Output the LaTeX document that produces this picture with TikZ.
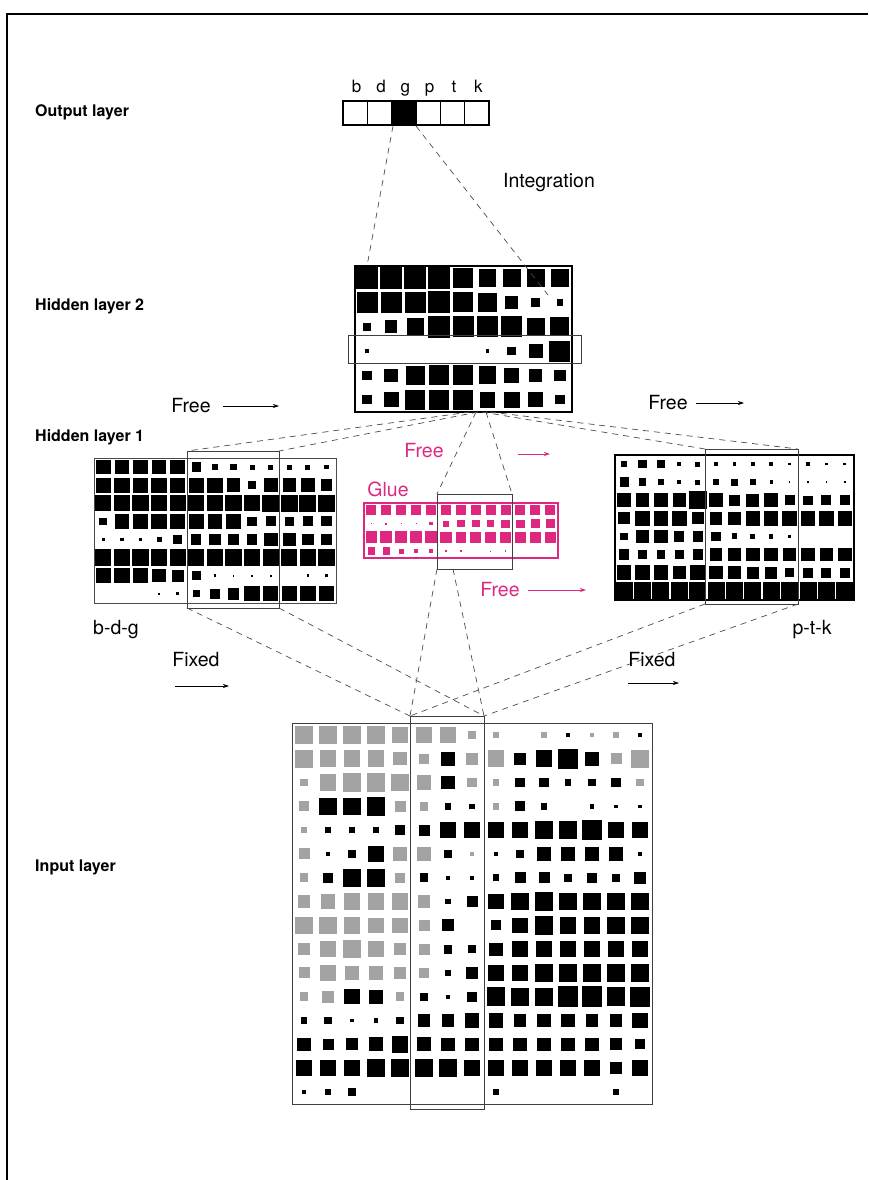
\documentclass[tikz,border=0pt]{standalone}
\usepackage{fontspec}
\setmainfont{TeX Gyre Heros}
\usetikzlibrary{arrows.meta}
\definecolor{gluecol}{RGB}{222,40,128}
\definecolor{sqgrey}{gray}{0.64}
\newcommand{\sqgrid}[7]{%
 \foreach \rowvals [count=\ri] in {#5} {%
   \foreach \v [count=\ci] in \rowvals {%
     \pgfmathsetmacro\hh{abs(\v)*#6/2}%
     \pgfmathsetmacro\cx{#1+(\ci-0.5)*#3}%
     \pgfmathsetmacro\cy{#2+(\ri-0.5)*#4}%
     \ifdim \v pt<0pt \def\sqcol{sqgrey}\else\def\sqcol{#7}\fi
     \fill[\sqcol] (\cx-\hh,\cy-\hh) rectangle (\cx+\hh,\cy+\hh);
   }%
 }%
}
\tikzset{
 lab/.style={anchor=west, font=\fontsize{16}{19}\selectfont\bfseries, inner sep=0pt},
 txt/.style={font=\fontsize{19.5}{23}\selectfont, inner sep=0pt},
 letter/.style={anchor=base, font=\fontsize{17}{20}\selectfont, inner sep=0pt},
 conn/.style={draw=black!70, dash pattern=on 6pt off 5pt, line width=0.7pt},
 farrow/.style={-{Stealth[length=6pt,width=4pt]}, line width=0.7pt},
 overlay/.style={draw=black!75, line width=0.7pt},
 frame/.style={line width=1.4pt}
}
\begin{document}
\begin{tikzpicture}[x=1pt,y=-1pt]
\useasboundingbox (0,0) rectangle (868,1180);
\draw[frame] (7,1180) -- (7,14) -- (868,14);

% layer labels
\node[lab] (lout) at (35,112) {Output layer};
\node[lab] (lh2) at (35,306) {Hidden layer 2};
\node[lab] (lh1) at (35,437) {Hidden layer 1};
\node[lab] (lin) at (35,867) {Input layer};

% output layer
\fill (391.67,101) rectangle (416,125);
\foreach \i in {1,...,5} \draw[line width=0.5pt] (343+\i*24.333,101) -- ++(0,24);
\draw[line width=1.3pt] (343,101) rectangle (489,125);
\foreach \l [count=\i] in {b,d,g,p,t,k}
  \node[letter] (o\i) at (343+\i*24.333-12.17+1.5,93) {\l};
\coordinate (gL) at (393,126);
\coordinate (gR) at (416,126);

% hidden layer 2
\sqgrid{355}{266}{24.1}{24.3}{
 {1.05,1.05,1.05,1.05,0.95,0.85,0.85,0.85,0.85},
 {1,1,1,1.05,0.95,0.9,0.6,0.45,0.3},
 {0.4,0.6,0.8,1.05,1,1,1,0.85,0.9},
 {0.2,0,0,0,0,0.15,0.4,0.65,1},
 {0.45,0.65,0.9,0.95,0.95,0.85,0.7,0.6,0.55},
 {0.45,0.7,0.95,0.95,0.95,0.75,0.75,0.7,0.45}}{21}{black}
\draw[line width=1.5pt] (355,266) rectangle (572,412);
\draw[overlay] (348,335) rectangle (581,363);
\coordinate (h2L) at (367,266);
\coordinate (h2R) at (548,295);
\draw[conn] (gL) -- (h2L);
\draw[conn] (gR) -- (h2R);
\node[txt] (integ) at (549,183) {Integration};

% hidden layer 1 left (b-d-g)
\sqgrid{94}{458}{18.6}{18.1}{
 {0.85,0.85,0.85,0.85,0.85,0.55,0.35,0.4,0.3,0.3,0.3,0.3,0.25},
 {0.9,0.9,0.9,0.9,0.9,0.9,0.9,0.8,0.45,0.8,0.8,0.8,0.7},
 {0.95,0.95,0.95,0.95,0.95,0.95,0.95,0.95,0.95,1,1,1,1},
 {0.45,0.85,0.9,0.9,0.9,0.9,0.85,0.85,0.55,0.6,0.55,0.6,0.6},
 {0.15,0.2,0.2,0.3,0.55,0.6,0.7,0.7,0.6,0.8,0.8,0.7,0.6},
 {0.95,0.95,0.95,0.95,0.95,0.95,0.95,0.95,0.95,0.95,0.95,0.95,0.95},
 {0.9,0.9,0.9,0.8,0.7,0.5,0.15,0.1,0.1,0.1,0,0.15,0.15},
 {0,0,0,0.1,0.15,0.4,0.6,0.7,0.9,0.9,0.9,0.9,0.9}}{17}{black}
\draw[line width=1pt, draw=black!70] (94,458) rectangle (336,603);
\draw[overlay] (187,451) rectangle (279,608);
\node[txt, anchor=west] (bdg) at (93,630) {b-d-g};

% hidden layer 1 right (p-t-k)
\sqgrid{615}{455}{18.38}{18.1}{
 {0.35,0.5,0.5,0.25,0.3,0.2,0.2,0.2,0.25,0.15,0.2,0.15,0.15},
 {0.55,0.45,0.35,0.25,0.3,0.35,0.4,0.35,0.2,0.1,0.1,0.1,0.1},
 {0.85,0.8,0.8,0.8,1.05,0.8,0.65,0.75,0.85,0.6,0.55,0.6,0.6},
 {0.7,0.85,0.85,0.85,0.7,0.75,0.8,0.85,0.85,0.85,0.85,0.85,0.85},
 {0.45,0.8,0.8,0.6,0.6,0.55,0.35,0.3,0.25,0.15,0,0,0},
 {0.6,0.5,0.5,0.55,0.6,0.75,0.8,0.8,0.8,0.8,0.8,0.8,0.8},
 {0.85,0.85,0.85,0.8,0.85,0.8,0.75,0.7,0.7,0.55,0.6,0.6,0.6},
 {1,1,1,1,1,1,1,1,1,1,1,1,1}}{17}{black}
\draw[line width=1.8pt] (615,455) rectangle (854,600);
\draw[overlay] (705,449) rectangle (798,604);
\node[txt] (ptk) at (812,630) {p-t-k};

% glue
\sqgrid{364}{503}{14.9}{13.75}{
 {0.8,0.8,0.8,0.8,0.8,0.8,0.8,0.8,0.8,0.8,0.8,0.8,0.8},
 {0.1,0.15,0.1,0.05,0.25,0.5,0.6,0.6,0.6,0.65,0.65,0.7,0.7},
 {0.95,0.95,0.95,0.95,0.95,0.9,0.85,0.85,0.85,0.85,0.85,0.85,0.85},
 {0.6,0.6,0.4,0.3,0.3,0.2,0.2,0,0.1,0.15,0,0,0}}{12.5}{gluecol}
\draw[line width=1.2pt, draw=gluecol] (364,503) rectangle (558,558);
\draw[overlay] (437,494) rectangle (512,569);
\node[txt, text=gluecol] (glue) at (388,489) {Glue};

% input layer
\sqgrid{292}{723}{24}{23.8}{
 {-0.85,-0.8,-0.8,-0.8,-0.75,-0.75,-0.7,-0.35,-0.3,0,-0.3,0.15,-0.2,-0.3,0.15},
 {-0.8,-0.75,-0.75,-0.75,-0.6,-0.45,0.65,-0.55,-0.75,0.55,0.75,0.9,0.65,-0.5,-0.8},
 {-0.35,-0.75,-0.85,-0.85,-0.8,-0.65,0.6,-0.45,-0.3,0.45,0.45,0.3,0.35,0.45,-0.35},
 {-0.45,0.8,0.8,0.85,-0.5,-0.4,0.3,0.25,-0.3,0.45,0.3,0,0.2,0.15,0.15},
 {-0.25,0.3,0.3,0.25,0.45,0.5,0.7,0.75,0.7,0.7,0.85,0.85,0.9,0.75,0.75},
 {-0.5,0.15,0.35,0.7,-0.6,-0.6,0.4,-0.2,0.15,0.35,0.6,0.6,0.6,0.6,0.2},
 {-0.4,0.45,0.8,0.8,-0.45,0.4,0.2,0.2,0.3,0.5,0.5,0.35,0.45,0.35,0.55},
 {-0.55,-0.65,-0.75,-0.75,-0.75,-0.55,0.25,0.5,0.7,0.8,0.85,0.8,0.8,0.8,0.8},
 {-0.8,-0.8,-0.75,-0.7,-0.7,-0.5,0.55,0,0.45,0.7,0.85,0.75,0.75,0.8,0.8},
 {-0.55,-0.75,-0.8,-0.7,-0.55,-0.5,0.4,0.35,0.6,0.7,0.75,0.75,0.75,0.75,0.75},
 {-0.5,-0.75,-0.65,-0.6,-0.55,-0.45,0.25,0.55,0.75,0.7,0.85,0.85,0.85,0.85,0.8},
 {-0.4,-0.55,0.7,0.65,-0.4,0.35,0.2,0.45,0.85,0.8,0.8,0.95,0.95,0.85,0.9},
 {0.3,0.35,0.15,0.2,0.35,0.55,0.55,0.65,0.65,0.55,0.6,0.6,0.55,0.55,0.7},
 {0.6,0.5,0.55,0.65,0.75,0.65,0.6,0.6,0.6,0.6,0.6,0.6,0.6,0.55,0.45},
 {0.75,0.75,0.7,0.8,0.85,0.8,0.8,0.7,0.7,0.7,0.75,0.75,0.75,0.55,0.7},
 {0.15,0.25,0.35,0,0,0,0,0,0.25,0,0,0,0,0.25,0}}{22}{black}
\draw[line width=0.8pt, draw=black!75] (292,723) rectangle (652,1104);
\draw[overlay] (410,716) rectangle (484,1109);

% connector end points
\coordinate (a1) at (470,412); \coordinate (a2) at (478,412);
\coordinate (a3) at (476,412); \coordinate (a4) at (486,412);
\coordinate (a5) at (482,412); \coordinate (a6) at (490,412);
\coordinate (bl1) at (187,451); \coordinate (bl2) at (279,451);
\coordinate (gl1) at (437,494); \coordinate (gl2) at (512,494);
\coordinate (br1) at (705,449); \coordinate (br2) at (798,449);
\coordinate (cl1) at (187,608); \coordinate (cl2) at (279,608);
\coordinate (cg1) at (437,569); \coordinate (cg2) at (453,569);
\coordinate (cr1) at (705,604); \coordinate (cr2) at (798,604);
\coordinate (in1) at (410,716); \coordinate (in2) at (484,716);

\draw[conn] (a1) -- (bl1);
\draw[conn] (a2) -- (bl2);
\draw[conn] (a3) -- (gl1);
\draw[conn] (a4) -- (gl2);
\draw[conn] (a5) -- (br1);
\draw[conn] (a6) -- (br2);
\draw[conn] (cl1) -- (in1);
\draw[conn] (cl2) -- (in2);
\draw[conn] (cg1) -- (in1);
\draw[conn] (cg2) -- (in2);
\draw[conn] (cr1) -- (in1);
\draw[conn] (cr2) -- (in2);

% Free / Fixed labels with arrows
\node[txt] (free1) at (191,406) {Free};
\coordinate (f1s) at (223,406); \coordinate (f1e) at (279,406);
\draw[farrow] (f1s) -- (f1e);
\node[txt] (free2) at (668,403) {Free};
\coordinate (f2s) at (696,403); \coordinate (f2e) at (744,403);
\draw[farrow] (f2s) -- (f2e);
\node[txt, text=gluecol] (free3) at (424,451) {Free};
\coordinate (f3s) at (518,454); \coordinate (f3e) at (550,454);
\draw[farrow, gluecol] (f3s) -- (f3e);
\node[txt, text=gluecol] (free4) at (500,590) {Free};
\coordinate (f4s) at (528,590); \coordinate (f4e) at (586,590);
\draw[farrow, gluecol] (f4s) -- (f4e);
\node[txt] (fix1) at (196,660) {Fixed};
\coordinate (x1s) at (175,686); \coordinate (x1e) at (229,686);
\draw[farrow] (x1s) -- (x1e);
\node[txt] (fix2) at (652,660) {Fixed};
\coordinate (x2s) at (628,683); \coordinate (x2e) at (679,683);
\draw[farrow] (x2s) -- (x2e);
\end{tikzpicture}
\end{document}
